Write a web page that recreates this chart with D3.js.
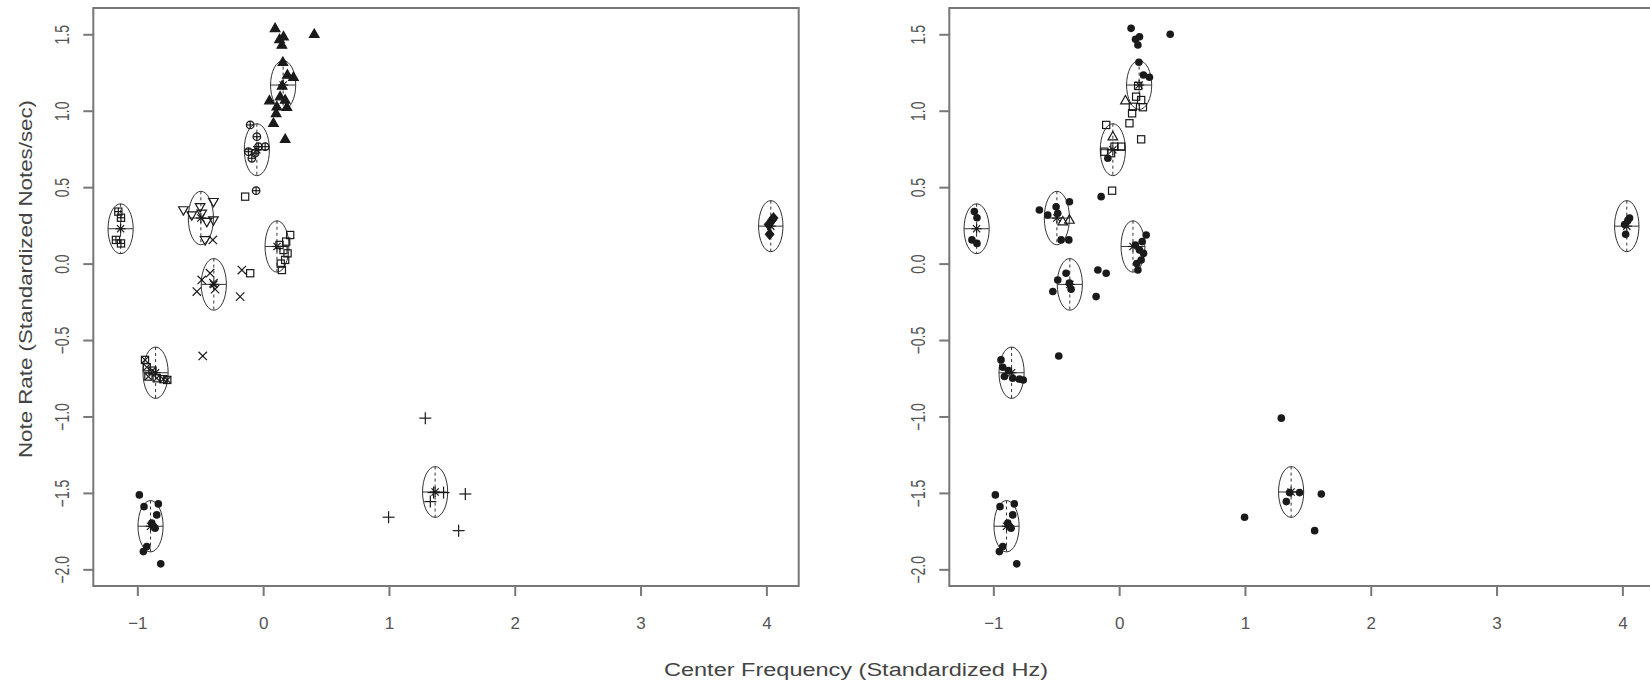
<!DOCTYPE html>
<html>
<head>
<meta charset="utf-8">
<script src="https://cdn.jsdelivr.net/npm/d3@7"></script>
<style>
  body { margin: 0; background: #fff; }
  svg { display: block; }
  text { font-family: "Liberation Sans", Arial, sans-serif; fill: #555; }
</style>
</head>
<body>
<div id="chart"></div>
<script>
// tick values
const xTicks = [-1, 0, 1, 2, 3, 4];
const yTicks = [-2, -1.5, -1, -0.5, 0, 0.5, 1, 1.5];

// cluster centres and ellipse half-widths (data units)
const clusterX  = [0.159, -0.05, -0.495, -0.392, 0.11, -1.133, -0.855, -0.895, 1.367, 4.035];
const clusterY  = [1.168, 0.745, 0.298, -0.136, 0.112, 0.228, -0.714, -1.718, -1.494, 0.245];
const clusterRx = [0.10, 0.10, 0.10, 0.10, 0.095, 0.10, 0.10, 0.10, 0.10, 0.097];
const clusterRy = [0.16, 0.17, 0.175, 0.169, 0.168, 0.163, 0.168, 0.168, 0.166, 0.167];

// observations
const pointX = [
  0.095, 0.406, 0.130, 0.162, 0.149, 0.157, 0.193, 0.241, 0.151, 0.050, 0.135, 0.175, 0.109, 0.189, 0.103, 0.082, 0.175,
  -0.103, -0.05, 0.016, -0.117, -0.064, -0.09, -0.037, -0.056, -0.143,
  -0.634, -0.567, -0.501, -0.395, -0.488, -0.448, -0.395, -0.461, -0.40,
  -0.527, -0.488, -0.422, -0.395, -0.382, -0.169, -0.183, -0.48, -0.103,
  0.215, 0.183, 0.162, 0.194, 0.175, 0.149, 0.13, 0.14,
  -1.151, -1.13, -1.17, -1.13,
  -0.939, -0.925, -0.912, -0.88, -0.846, -0.793, -0.762,
  -0.984, -0.947, -0.833, -0.846, -0.885, -0.859, -0.925, -0.952, -0.814, -0.87,
  1.289, 0.997, 1.607, 1.554, 1.434, 1.329, 1.355,
  4.044, 4.018, 4.026, 4.057
];
const pointY = [
  1.539, 1.50, 1.467, 1.484, 1.43, 1.317, 1.234, 1.219, 1.162, 1.066, 1.092, 1.07, 1.026, 1.023, 0.983, 0.918, 0.813,
  0.907, 0.83, 0.765, 0.732, 0.722, 0.689, 0.765, 0.477, 0.438,
  0.351, 0.318, 0.372, 0.405, 0.329, 0.274, 0.285, 0.155, 0.155,
  -0.183, -0.107, -0.063, -0.128, -0.167, -0.042, -0.216, -0.604, -0.063,
  0.187, 0.144, 0.089, 0.067, 0.024, -0.042, 0.122, 0.0,
  0.34, 0.30, 0.155, 0.132,
  -0.63, -0.678, -0.739, -0.70, -0.75, -0.756, -0.761,
  -1.513, -1.59, -1.572, -1.644, -1.698, -1.731, -1.851, -1.884, -1.964, -1.72,
  -1.011, -1.659, -1.507, -1.747, -1.498, -1.557, -1.498,
  0.284, 0.255, 0.192, 0.298
];
// symbol in left panel (true group) and right panel (assigned group)
const shapeLeft = [
  "tri","tri","tri","tri","tri","tri","tri","tri","tri","tri","tri","tri","tri","tri","tri","tri","tri",
  "cplus","cplus","cplus","cplus","cplus","cplus","cplus","cplus","sq",
  "itri","itri","itri","itri","itri","itri","itri","itri","x",
  "x","x","x","x","x","x","x","x","sq",
  "sq","sq","sq","sq","sq","sq","sq","sq",
  "sqp","sqp","sqp","sqp",
  "sqx","sqx","sqx","sqx","sqx","sqx","sqx",
  "dot","dot","dot","dot","dot","dot","dot","dot","dot","dot",
  "plus","plus","plus","plus","plus","plus","plus",
  "diam","diam","diam","diam"
];
const shapeRight = [
  "dot","dot","dot","dot","dot","dot","dot","dot","sq","otri","sq","sq","sq","sq","sq","sq","sq",
  "sq","otri","sq","sq","sq","dot","sq","sq","dot",
  "dot","dot","dot","dot","dot","otri","otri","dot","dot",
  "dot","dot","dot","dot","dot","dot","dot","dot","dot",
  "dot","dot","dot","dot","dot","dot","dot","dot",
  "dot","dot","dot","dot",
  "dot","dot","dot","dot","dot","dot","dot",
  "dot","dot","dot","dot","dot","dot","dot","dot","dot","dot",
  "dot","dot","dot","dot","dot","dot","dot",
  "dot","dot","dot","dot"
];

const W = 1650, H = 685;
const panelW = 705.4, plotTop = 8, plotBottom = 586;
const panels = [
  { left: 93.3, shapes: shapeLeft },
  { left: 949.3, shapes: shapeRight }
];
const axisGrey = "#777";
const ink = "#1a1a1a";

const svg = d3.select("#chart").append("svg")
  .attr("width", W).attr("height", H);

function drawSymbol(g, shape, cx, cy) {
  const s = g.append("g").attr("transform", `translate(${cx},${cy})`)
    .attr("stroke", ink).attr("stroke-width", 1.2).attr("fill", "none");
  const line = (x1, y1, x2, y2) => s.append("line")
    .attr("x1", x1).attr("y1", y1).attr("x2", x2).attr("y2", y2);
  switch (shape) {
    case "dot":
      s.append("circle").attr("r", 3.8).attr("fill", ink).attr("stroke", "none");
      break;
    case "tri":
      s.append("path").attr("d", "M0,-5.2L4.8,3.2L-4.8,3.2Z").attr("fill", ink);
      break;
    case "otri":
      s.append("path").attr("d", "M0,-5.2L4.8,3.2L-4.8,3.2Z");
      break;
    case "itri":
      s.append("path").attr("d", "M0,5.2L4.8,-3.2L-4.8,-3.2Z");
      break;
    case "sq":
      s.append("rect").attr("x", -3.6).attr("y", -3.6).attr("width", 7.2).attr("height", 7.2);
      break;
    case "sqp":
      s.append("rect").attr("x", -3.6).attr("y", -3.6).attr("width", 7.2).attr("height", 7.2);
      line(-3.6, 0, 3.6, 0); line(0, -3.6, 0, 3.6);
      break;
    case "sqx":
      s.append("rect").attr("x", -3.6).attr("y", -3.6).attr("width", 7.2).attr("height", 7.2);
      line(-3.6, -3.6, 3.6, 3.6); line(-3.6, 3.6, 3.6, -3.6);
      break;
    case "x":
      line(-4.2, -4.2, 4.2, 4.2); line(-4.2, 4.2, 4.2, -4.2);
      break;
    case "plus":
      line(-6, 0, 6, 0); line(0, -6, 0, 6);
      break;
    case "cplus":
      s.append("circle").attr("r", 3.8);
      line(-3.8, 0, 3.8, 0); line(0, -3.8, 0, 3.8);
      break;
    case "diam":
      s.append("path").attr("d", "M0,-5L4.2,0L0,5L-4.2,0Z").attr("fill", ink);
      break;
    case "star":
      line(-5, 0, 5, 0); line(0, -5, 0, 5);
      line(-3.6, -3.6, 3.6, 3.6); line(-3.6, 3.6, 3.6, -3.6);
      break;
  }
}

panels.forEach(p => {
  const x = d3.scaleLinear().domain([-1.35, 4.257]).range([p.left, p.left + panelW]);
  const y = d3.scaleLinear().domain([-2.109, 1.672]).range([plotBottom, plotTop]);
  const g = svg.append("g");

  // axes
  const xAxis = g.append("g")
    .attr("transform", `translate(0,${plotBottom})`)
    .call(d3.axisBottom(x).tickValues(xTicks).tickSize(10).tickFormat(d3.format("d")));
  xAxis.select(".domain").remove();
  xAxis.selectAll(".tick line").attr("stroke", axisGrey).attr("stroke-width", 2);
  xAxis.selectAll("text")
    .attr("y", 37).attr("dy", "0.35em")
    .style("font-size", "17px").style("fill", "#555");

  const yAxis = g.append("g")
    .attr("transform", `translate(${p.left},0)`)
    .call(d3.axisLeft(y).tickValues(yTicks).tickSize(10).tickFormat(d3.format(".1f")));
  yAxis.select(".domain").remove();
  yAxis.selectAll(".tick line").attr("stroke", axisGrey).attr("stroke-width", 2);
  yAxis.selectAll("text")
    .attr("x", null).attr("dy", null)
    .attr("text-anchor", "middle")
    .attr("transform", "translate(-31,0) rotate(-90) scale(0.82,1.15) translate(0,6)")
    .style("font-size", "17px").style("fill", "#555");

  // plot box
  g.append("rect")
    .attr("x", p.left).attr("y", plotTop)
    .attr("width", panelW).attr("height", plotBottom - plotTop)
    .attr("fill", "none").attr("stroke", axisGrey).attr("stroke-width", 2);

  // cluster ellipses with axis lines and centre star
  const cg = g.append("g").attr("stroke", "#333").attr("fill", "none").attr("stroke-width", 1);
  clusterX.forEach((cx, i) => {
    const px = x(cx), py = y(clusterY[i]);
    const rx = x(cx + clusterRx[i]) - px;
    const ry = py - y(clusterY[i] + clusterRy[i]);
    cg.append("ellipse").attr("cx", px).attr("cy", py).attr("rx", rx).attr("ry", ry);
    cg.append("line").attr("x1", px - rx).attr("x2", px + rx).attr("y1", py).attr("y2", py);
    cg.append("line").attr("x1", px).attr("x2", px).attr("y1", py - ry).attr("y2", py + ry)
      .attr("stroke-dasharray", "3,3");
    drawSymbol(cg, "star", px, py);
  });

  // points
  const pg = g.append("g");
  pointX.forEach((vx, i) => drawSymbol(pg, p.shapes[i], x(vx), y(pointY[i])));
});

// shared axis titles
svg.append("text")
  .attr("x", 856).attr("y", 670).attr("dy", "0.35em")
  .attr("text-anchor", "middle")
  .attr("textLength", 384).attr("lengthAdjust", "spacingAndGlyphs")
  .style("font-size", "18px").style("fill", "#444")
  .text("Center Frequency (Standardized Hz)");

svg.append("text")
  .attr("transform", "translate(25,279) rotate(-90)")
  .attr("dy", "0.35em")
  .attr("text-anchor", "middle")
  .attr("textLength", 358).attr("lengthAdjust", "spacingAndGlyphs")
  .style("font-size", "19px").style("fill", "#444")
  .text("Note Rate  (Standardized Notes/sec)");
</script>
</body>
</html>
